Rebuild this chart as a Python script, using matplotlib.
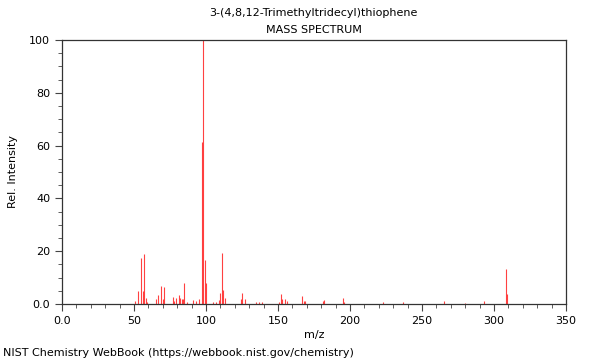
import numpy as np
import matplotlib
matplotlib.use("Agg")
import matplotlib.pyplot as plt
from matplotlib.ticker import MultipleLocator, FuncFormatter

# peaks (m/z, relative intensity)
mz = [51, 53, 55, 56, 57, 58, 59,
      65, 67, 69, 70, 71, 77, 78, 79, 81, 82, 83, 84, 85, 87,
      91, 93, 95, 97, 98, 99, 100,
      105, 107, 109, 110, 111, 112, 113,
      124, 125, 127, 135, 137, 139,
      151, 152, 153, 155, 156, 167, 168, 169,
      181, 182, 195, 196, 223, 237, 265, 280, 293, 308, 309]
intensity = [1.0, 5.0, 17.3, 5.0, 18.8, 2.1, 0.6,
             2.0, 3.4, 6.7, 1.8, 6.3, 2.5, 1.0, 2.2, 3.4, 2.1, 2.0, 2.0, 7.8, 0.8,
             1.6, 1.1, 2.0, 61.5, 100.0, 16.7, 7.8,
             0.9, 0.8, 1.6, 4.2, 19.3, 5.3, 2.2,
             1.8, 4.2, 1.8, 0.6, 0.6, 0.7,
             0.8, 3.7, 2.0, 1.9, 1.1, 3.0, 1.3, 1.1,
             1.3, 1.5, 2.4, 0.6, 0.6, 0.6, 1.0, 0.4, 1.1, 13.3, 3.9]

compound = "3-(4,8,12-Trimethyltridecyl)thiophene"

fig = plt.figure(figsize=(6, 3.6), dpi=100)
ax = fig.add_axes([0.1033, 0.1556, 0.84, 0.7333])

ax.vlines(mz, 0, intensity, color="#ff2020", linewidth=0.8, alpha=0.85)

ax.set_xlim(0, 350)
ax.set_ylim(0, 100)
ax.xaxis.set_major_locator(MultipleLocator(50))
ax.xaxis.set_minor_locator(MultipleLocator(10))
ax.yaxis.set_major_locator(MultipleLocator(20))
ax.yaxis.set_minor_locator(MultipleLocator(5))

fmt = FuncFormatter(lambda v, p: "0.0" if v == 0 else "%d" % v)
ax.xaxis.set_major_formatter(fmt)
ax.yaxis.set_major_formatter(fmt)

ax.tick_params(which="major", length=5, width=0.8, labelsize=8, color="#444444")
ax.tick_params(which="minor", length=3, width=0.6, color="#444444")
for s in ax.spines.values():
    s.set_color("#333333")
    s.set_linewidth(0.9)

ax.set_xlabel("m/z", fontsize=8)
ax.set_ylabel("Rel. Intensity", fontsize=8)
ax.yaxis.set_label_coords(-0.088, 0.5)
ax.xaxis.set_label_coords(0.5, -0.1)

fig.text(0.523, 0.963, compound, ha="center", va="center", fontsize=8)
fig.text(0.523, 0.916, "MASS SPECTRUM", ha="center", va="center", fontsize=8)
fig.text(0.005, 0.02, "NIST Chemistry WebBook (https://webbook.nist.gov/chemistry)",
         ha="left", va="center", fontsize=8)

fig.savefig("out.png", dpi=100)
